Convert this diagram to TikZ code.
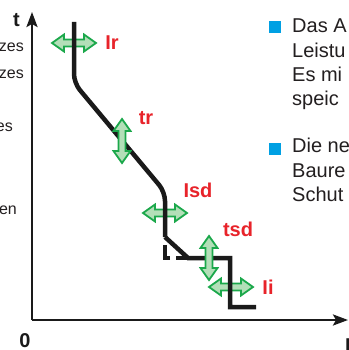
\documentclass[tikz,border=0pt]{standalone}
\usepackage{fontspec}
\setmainfont{Liberation Sans}
\usetikzlibrary{arrows.meta}
\definecolor{curveblack}{HTML}{1A1A1A}
\definecolor{lblred}{HTML}{E8232A}
\definecolor{arrgreen}{HTML}{1BA84B}
\definecolor{arrfill}{HTML}{B3DFB8}
\definecolor{bulletblue}{HTML}{00A0E3}
\definecolor{txtgray}{HTML}{231F20}
\tikzset{
  axis/.style={line width=2.5pt, curveblack, -{Stealth[length=15pt,width=11pt,inset=3pt]}},
  curve/.style={line width=4.5pt, curveblack},
  lbl/.style={text=lblred, font=\fontsize{20}{20}\selectfont\bfseries, inner sep=0pt},
  axlbl/.style={text=curveblack, font=\fontsize{20}{20}\selectfont\bfseries, inner sep=0pt},
  lefttxt/.style={text=txtgray, font=\fontsize{16}{16}\selectfont, inner sep=0pt, anchor=base east},
  righttxt/.style={text=txtgray, font=\fontsize{20}{20}\selectfont, inner sep=0pt, anchor=base west},
  bullet/.style={fill=bulletblue, draw=none},
  garrow/.style={draw=arrgreen, fill=arrfill, line width=1.8pt, line join=miter},
}
\newcommand{\dblarrow}[3]{% center x, center y, rotation
  \draw[garrow, shift={(#1,#2)}, rotate=#3]
    (-22,0) -- (-10,8.5) -- (-10,3.5) -- (10,3.5) -- (10,8.5) -- (22,0)
    -- (10,-8.5) -- (10,-3.5) -- (-10,-3.5) -- (-10,-8.5) -- cycle;}
\begin{document}
\begin{tikzpicture}[x=1pt, y=-1pt]
\useasboundingbox (0,0) rectangle (348,350);
\clip (0,0) rectangle (348,350);
\fill[white] (0,0) rectangle (348,350);

% axes
\coordinate (O) at (32,320);
\coordinate (ytip) at (32,12);
\coordinate (xtip) at (348,320);
\draw[axis] (O) -- (ytip);
\draw[axis] (O) -- (xtip);
\node[axlbl, anchor=base] (tlabel) at (16.5,27) {t};
\node[axlbl, anchor=base] (zero) at (25,347) {0};
\node[axlbl, anchor=base west] (ilabel) at (345,352) {I};

% left text fragments
\node[lefttxt] (l1) at (24,52) {zes};
\node[lefttxt] (l2) at (24,79) {zes};
\node[lefttxt] (l3) at (13,131) {es};
\node[lefttxt] (l4) at (17,214) {en};

% horizontal green arrows (under the curve)
\dblarrow{74}{43}{0}
\dblarrow{165}{213}{0}
\dblarrow{231}{287}{0}

% curve
\coordinate (c0) at (74,22);
\coordinate (c1) at (74,83);
\coordinate (c2) at (165,192);
\coordinate (c3) at (165,237);
\coordinate (c4) at (188,258);
\coordinate (c5) at (230,258);
\coordinate (c6) at (230,307);
\coordinate (c7) at (256,307);
\coordinate (d1) at (165,258);
\draw[curve, rounded corners=9pt] (c0) -- (c1) -- (c2) -- (c3);
\draw[curve, line join=miter] (c3) -- (c4) -- (c5) -- (c6) -- (c7);
\draw[curve, dash pattern=on 12pt off 6pt on 18pt off 30pt] (c4) -- (d1) -- (c3);

% vertical green arrows (over the curve)
\dblarrow{122}{141}{90}
\dblarrow{209}{258}{90}

% labels
\node[lbl] (Ir) at (112,43) {Ir};
\node[lbl] (tr) at (146,118) {tr};
\node[lbl] (Isd) at (198,190) {Isd};
\node[lbl] (tsd) at (238,229) {tsd};
\node[lbl] (Ii) at (268,287) {Ii};

% right text
\fill[bullet] (269,21) rectangle (281,33);
\fill[bullet] (269,143) rectangle (281,155);
\node[righttxt] (r1) at (292,33) {Das A};
\node[righttxt] (r2) at (292,58) {Leistu};
\node[righttxt] (r3) at (292,82) {Es mi};
\node[righttxt] (r4) at (292,106) {speic};
\node[righttxt] (r5) at (292,152) {Die ne};
\node[righttxt] (r6) at (292,177) {Baure};
\node[righttxt] (r7) at (292,201) {Schut};
\end{tikzpicture}
\end{document}
